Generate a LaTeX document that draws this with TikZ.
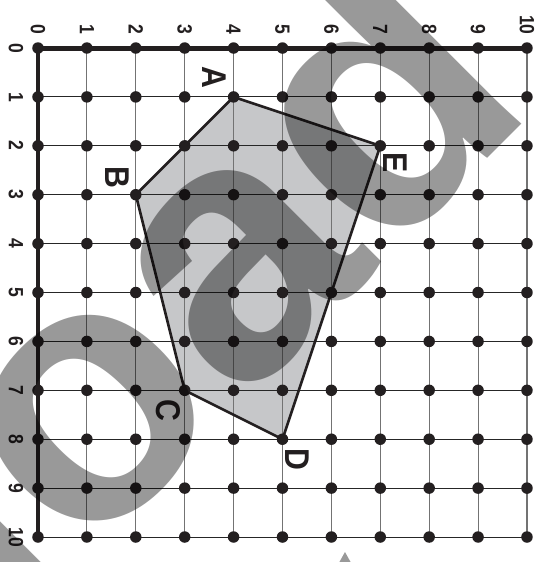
\documentclass[tikz,border=0pt]{standalone}
\usepackage{fontspec}
\setmainfont{Liberation Sans}
\definecolor{polyfill}{RGB}{198,199,201}
\definecolor{dotcol}{RGB}{35,31,32}
\begin{document}
\begin{tikzpicture}[x=1cm,y=1cm,
    gridpt/.style={circle,fill=dotcol,inner sep=0pt,minimum size=0.235cm},
    vline/.style={black!55,line width=0.6pt},
    hline/.style={black!85,line width=0.6pt},
    axisline/.style={dotcol,line width=2.9pt},
    edgeline/.style={dotcol,line width=1.5pt},
    axisnum/.style={rotate=-90,xscale=0.85,inner sep=0pt,text=dotcol,
      font=\fontsize{12}{14}\selectfont\bfseries},
    vertex/.style={rotate=-90,xscale=0.88,inner sep=0pt,text=dotcol,
      font=\fontsize{20}{24}\selectfont\bfseries},
    wmark/.style={rotate=45,inner sep=0pt,text=black,text opacity=0.4,
      font=\fontsize{212}{212}\selectfont\bfseries}]

  \useasboundingbox (-0.777,0.982) rectangle (10.307,-10.511);

  % grid points
  \foreach \i in {0,...,10} {
    \foreach \j in {0,...,10} {
      \coordinate (p\i-\j) at (\i,-\j);
    }
  }

  % shaded polygon ABCDE
  \fill[polyfill] (p4-1) -- (p7-2) -- (p5-8) -- (p3-7) -- (p2-3) -- cycle;

  % grid
  \foreach \i in {0,...,10} {
    \draw[vline] (p\i-0) -- (p\i-10);
    \draw[hline] (p0-\i) -- (p10-\i);
  }
  \draw[axisline] (p0-10) -- (p0-0) -- (p10-0);

  \draw[edgeline] (p4-1) -- (p7-2) -- (p5-8) -- (p3-7) -- (p2-3) -- cycle;

  \foreach \i in {0,...,10} {
    \foreach \j in {0,...,10} {
      \node[gridpt] (d\i-\j) at (p\i-\j) {};
    }
  }

  % axis numbers
  \foreach \i in {0,...,10} {
    \node[axisnum,anchor=east] (tx\i) at (\i,0.266) {\i};
    \node[axisnum] (ly\i) at (-0.45,-\i) {\i};
  }

  % vertex labels
  \node[vertex] (lA) at (3.60,-0.61) {A};
  \node[vertex] (lB) at (1.62,-2.64) {B};
  \node[vertex] (lC) at (2.66,-7.42) {C};
  \node[vertex] (lD) at (5.30,-8.41) {D};
  \node[vertex] (lE) at (7.30,-2.35) {E};

  % watermark
  \node[wmark,anchor=base west] (wm) at (0.88,-10.59) {oad};
  \node[wmark,anchor=base east] (wml) at (wm.base west) {l};
  \fill[black,opacity=0.4] (6.278,-10.307) -- (6.442,-10.6) -- (6.115,-10.6) -- cycle;

\end{tikzpicture}
\end{document}
